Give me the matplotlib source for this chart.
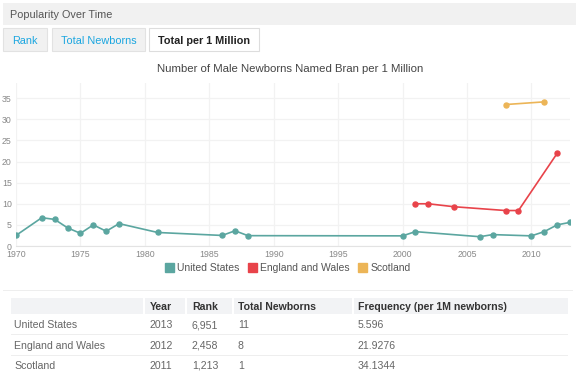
import matplotlib.pyplot as plt
from matplotlib.patches import Rectangle

plt.rcParams['font.family'] = ['Liberation Sans', 'DejaVu Sans']

# data
us_years = [1970, 1972, 1973, 1974, 1975, 1976, 1977, 1978, 1981, 1986, 1987, 1988,
            2000, 2001, 2006, 2007, 2010, 2011, 2012, 2013]
us_vals = [2.5, 6.7, 6.3, 4.3, 3.0, 5.0, 3.5, 5.3, 3.2, 2.5, 3.6, 2.45,
           2.4, 3.4, 2.2, 2.7, 2.4, 3.4, 5.0, 5.596]
ew_years = [2001, 2002, 2004, 2008, 2009, 2012]
ew_vals = [10.0, 10.0, 9.3, 8.4, 8.4, 21.9276]
sc_years = [2008, 2011]
sc_vals = [33.5, 34.1344]

series = [("United States", us_years, us_vals, "#5ba6a0"),
          ("England and Wales", ew_years, ew_vals, "#e8434a"),
          ("Scotland", sc_years, sc_vals, "#ecb557")]

table_cols = ["", "Year", "Rank", "Total Newborns", "Frequency (per 1M newborns)"]
table_rows = [["United States", "2013", "6,951", "11", "5.596"],
              ["England and Wales", "2012", "2,458", "8", "21.9276"],
              ["Scotland", "2011", "1,213", "1", "34.1344"]]

W, H = 580, 383
fig = plt.figure(figsize=(W / 100, H / 100), dpi=100)


def box(x0, y0, x1, y1, **kw):
    # pixel coords, y measured from top
    fig.patches.append(Rectangle((x0 / W, 1 - y1 / H), (x1 - x0) / W, (y1 - y0) / H,
                                 transform=fig.transFigure, **kw))


def text(x, y, s, **kw):
    # y is the visual middle of cap height; put baseline a bit lower
    fig.text(x / W, 1 - (y + 4) / H, s, va="baseline", **kw)


# header bar and tabs
box(3, 3, 576, 25, facecolor="#f1f1f1", edgecolor="none")
text(10, 14, "Popularity Over Time", fontsize=7.8, color="#555555")
box(3, 28, 47, 51, facecolor="#f1f1f1", edgecolor="#e2e2e2", lw=0.8)
text(25, 39.5, "Rank", fontsize=7.8, color="#1aa6e0", ha="center")
box(52, 28, 145, 51, facecolor="#f1f1f1", edgecolor="#e2e2e2", lw=0.8)
text(98.5, 39.5, "Total Newborns", fontsize=7.8, color="#1aa6e0", ha="center")
box(149, 28, 259, 51, facecolor="white", edgecolor="#dddddd", lw=0.8)
text(204, 39.5, "Total per 1 Million", fontsize=7.8, color="#222222", ha="center",
     fontweight="bold")

# chart
ax = fig.add_axes([16 / W, 1 - 246 / H, (570 - 16) / W, (246 - 83) / H])
for name, xs, ys, c in series:
    ax.plot(xs, ys, color=c, lw=1.2, marker="o", ms=3.6, label=name)
ax.set_xlim(1970, 2013)
ax.set_ylim(0, 38.6)
ax.set_xticks(range(1970, 2011, 5))
ax.set_yticks(range(0, 36, 5))
ax.grid(color="#f2f2f2", lw=0.9)
ax.set_axisbelow(True)
for s in ["top", "right", "left"]:
    ax.spines[s].set_visible(False)
ax.spines["bottom"].set_color("#e3e3e3")
ax.tick_params(length=0, labelsize=6.3, labelcolor="#888888", pad=3)
text(290, 68, "Number of Male Newborns Named Bran per 1 Million", fontsize=8.2,
     color="#444444", ha="center")
handles = [Rectangle((0, 0), 1, 1, color=c) for _, _, _, c in series]
fig.legend(handles, [s[0] for s in series], loc="center", ncol=3,
           bbox_to_anchor=(288 / W, 1 - 268 / H), frameon=False, fontsize=7.5,
           handlelength=0.85, handleheight=0.85, handletextpad=0.35, columnspacing=0.8,
           labelcolor="#555555")

# table
box(3, 289.5, 573, 290.5, facecolor="#eeeeee", edgecolor="none")
box(11, 298, 568, 314, facecolor="#f2f3f5", edgecolor="none")
col_x = [14, 150, 192, 238, 358]
for x in [143, 185, 232, 352]:
    box(x, 298, x + 2, 314, facecolor="white", edgecolor="none")
for x, c in zip(col_x, table_cols):
    text(x, 306, c, fontsize=7.6, fontweight="bold", color="#333333")
row_y = [324, 345, 365]
for y, row in zip(row_y, table_rows):
    for x, v in zip(col_x, row):
        text(x, y, v, fontsize=7.6, color="#666666")
for y in [334, 355]:
    box(11, y, 568, y + 1, facecolor="#eeeeee", edgecolor="none")

fig.savefig("out.png", dpi=100)
